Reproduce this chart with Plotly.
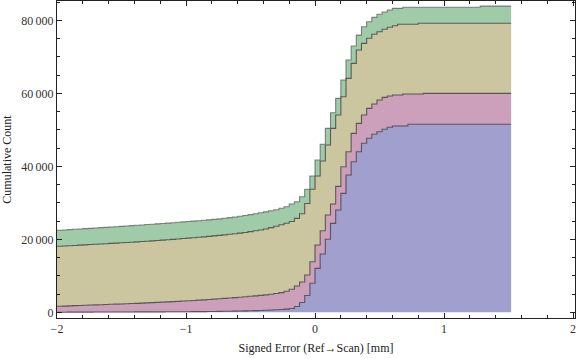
import numpy as np
import plotly.graph_objects as go

# Histogram bins (cumulative counts per bin, stacked totals)
bin_start = -2.0
bin_width = 0.04
n_bins = 88

blue_top = [30, 35, 40, 45, 50, 55, 60, 65, 70, 75, 80, 85, 90,
            95, 100, 105, 110, 115, 120, 125, 130, 135, 140, 150, 160, 170, 180, 190, 200, 215,
            230, 250, 270, 290, 320, 350, 380, 420, 460, 510, 570, 630, 700, 780, 880,
            1050, 1600, 2700, 4600, 7950, 12050, 15970, 20000, 24380, 28030, 32600, 37620, 41270, 44010,
            46310, 47680, 48770, 49480, 50140, 50690, 51050, 51050,
            51050] + [51510] * 14 + [51510] * 6

pink_top = [1640, 1700, 1760, 1820, 1880, 1940, 1990, 2040, 2090, 2140, 2190, 2240, 2290,
            2340, 2400, 2460, 2520, 2580, 2640, 2710, 2780, 2850, 2920, 3000, 3080, 3160, 3240, 3330, 3420, 3510,
            3610, 3710, 3810, 3920, 4030, 4140, 4260, 4380, 4500, 4630, 4780, 4950, 5150, 5400, 5750,
            6300, 7200, 8300, 10220, 13860, 18440, 22360, 26660, 29670, 34500, 39890, 44010, 49040, 51780,
            54060, 55890, 57070, 58170, 58900, 59260, 59540, 59540] + [59810] * 4 + [60000] * 11 + [60000] * 6

tan_top = [18080, 18160, 18240, 18320, 18400, 18480, 18560, 18640, 18720, 18800, 18880, 18960, 19040,
           19120, 19210, 19300, 19390, 19480, 19580, 19680, 19780, 19880, 19990, 20100, 20210, 20320, 20440, 20560, 20680, 20810,
           20940, 21080, 21220, 21370, 21530, 21700, 21880, 22100, 22330, 22570, 22820, 23200, 23600, 24000, 24400,
           24900, 25750, 27000, 29800, 33700, 37350, 41450, 45840, 50400, 54060, 59070, 64110, 68220, 71870,
           73700, 75080, 76170, 76880, 77540, 78090, 78530, 78910] + [78910] * 3 + [79190] * 12 + [79190] * 6

green_top = [22470, 22560, 22650, 22740, 22830, 22920, 23010, 23100, 23190, 23280, 23370, 23460, 23550,
             23640, 23740, 23840, 23940, 24040, 24140, 24240, 24340, 24440, 24550, 24660, 24770, 24880, 24990, 25100, 25220, 25340,
             25460, 25600, 25760, 25940, 26130, 26330, 26540, 26760, 27000, 27260, 27530, 27810, 28100, 28500, 28930,
             29670, 30300, 31670, 33700, 37350, 41730, 46030, 50400, 54700, 58630, 63650, 69130, 72960, 75960,
             78250, 79620, 80800, 81650, 82280, 82830, 83290, 83290] + [83600] * 15 + [83900] * 6

x_tickvals = [-2, -1, 0, 1, 2]
x_ticktext = ["\u22122", "\u22121", "0", "1", "2"]
y_tickvals = [0, 20000, 40000, 60000, 80000]
y_ticktext = ["0", "20\u2009000", "40\u2009000", "60\u2009000", "80\u2009000"]

edges = bin_start + bin_width * np.arange(n_bins + 1)

layers = [
    (blue_top, "rgb(160,159,205)", "tozeroy", "rgba(60,60,70,0.8)"),
    (pink_top, "rgb(204,159,186)", "tonexty", "rgba(60,60,60,0.8)"),
    (tan_top, "rgb(203,198,160)", "tonexty", "rgba(60,60,60,0.8)"),
    (green_top, "rgb(160,203,169)", "tonexty", "rgba(90,95,90,0.75)"),
]

fig = go.Figure()
for vals, col, fill, lc in layers:
    yv = list(vals) + [vals[-1]]
    fig.add_trace(go.Scatter(
        x=edges, y=yv, mode="lines", line=dict(shape="hv", color=lc, width=1.1),
        fill=fill, fillcolor=col, showlegend=False, hoverinfo="skip"))

font_fam = "Liberation Serif"
axis_common = dict(showline=True, linecolor="#222", linewidth=1, mirror="allticks",
                   ticks="inside", ticklen=5, tickcolor="#222", showgrid=False, zeroline=False,
                   tickfont=dict(family=font_fam, size=12, color="#333"))

fig.update_layout(
    width=576, height=359,
    margin=dict(l=57, r=1, t=1, b=41),
    paper_bgcolor="white", plot_bgcolor="white",
    xaxis=dict(range=[-2.0, 2.015], tickvals=x_tickvals, ticktext=x_ticktext,
               ticklabeloverflow="allow",
               minor=dict(ticks="inside", ticklen=3, dtick=0.2, tick0=0, tickcolor="#222"),
               title=dict(text="Signed Error (Ref\u2192Scan) [mm]", font=dict(family=font_fam, size=12, color="#222"), standoff=8),
               **axis_common),
    yaxis=dict(range=[-1560, 85300], tickvals=y_tickvals, ticktext=y_ticktext,
               minor=dict(ticks="inside", ticklen=3, dtick=5000, tick0=0, tickcolor="#222"),
               title=dict(text="Cumulative Count", font=dict(family=font_fam, size=12, color="#222"), standoff=6),
               **axis_common),
)

fig.write_html("out.html", config={"displayModeBar": False, "staticPlot": True},
               post_script="document.body.style.margin='0';document.body.style.overflow='hidden';")
